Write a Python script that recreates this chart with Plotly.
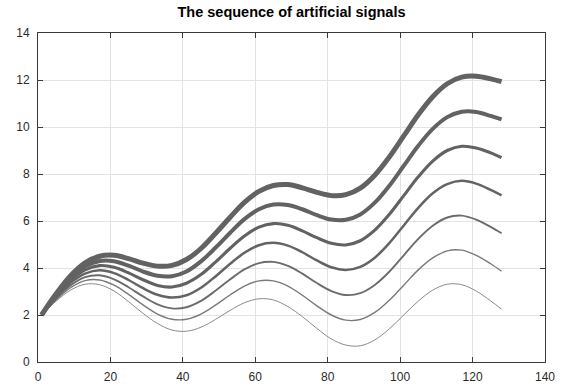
import plotly.graph_objects as go

x_vals = [1, 5, 9, 13, 17, 21, 25, 29, 33, 37, 41, 45, 49, 53, 57, 61, 65,
          69, 73, 77, 81, 85, 89, 93, 97, 101, 105, 109, 113, 117, 121, 125, 128]

signal_1 = [2.00, 2.59, 3.06, 3.31, 3.29, 3.02, 2.57, 2.07, 1.64, 1.36, 1.31, 1.48, 1.81,
            2.19, 2.52, 2.69, 2.64, 2.36, 1.93, 1.43, 0.98, 0.72, 0.69, 0.94, 1.41, 2.00,
            2.59, 3.06, 3.31, 3.29, 3.02, 2.60, 2.25]
signal_2 = [2.00, 2.64, 3.16, 3.46, 3.49, 3.27, 2.88, 2.43, 2.04, 1.82, 1.82, 2.04, 2.42,
            2.85, 3.23, 3.45, 3.45, 3.23, 2.84, 2.39, 2.00, 1.78, 1.81, 2.11, 2.63, 3.27,
            3.92, 4.43, 4.73, 4.76, 4.54, 4.18, 3.86]
signal_3 = [2.00, 2.70, 3.26, 3.61, 3.69, 3.52, 3.18, 2.79, 2.45, 2.28, 2.33, 2.60, 3.03,
            3.51, 3.94, 4.21, 4.26, 4.09, 3.76, 3.36, 3.02, 2.85, 2.93, 3.28, 3.84, 4.54,
            5.24, 5.80, 6.15, 6.23, 6.06, 5.75, 5.48]
signal_4 = [2.00, 2.75, 3.37, 3.76, 3.90, 3.78, 3.49, 3.14, 2.86, 2.74, 2.84, 3.16, 3.64,
            4.17, 4.65, 4.97, 5.07, 4.95, 4.67, 4.32, 4.03, 3.92, 4.05, 4.44, 5.06, 5.81,
            6.56, 7.18, 7.57, 7.71, 7.59, 7.32, 7.09]
signal_5 = [2.00, 2.80, 3.47, 3.92, 4.10, 4.03, 3.79, 3.50, 3.26, 3.19, 3.35, 3.72, 4.25,
            4.83, 5.36, 5.74, 5.89, 5.82, 5.58, 5.29, 5.05, 4.98, 5.16, 5.61, 6.28, 7.08,
            7.88, 8.55, 9.00, 9.18, 9.11, 8.90, 8.70]
signal_6 = [2.00, 2.85, 3.57, 4.07, 4.30, 4.29, 4.10, 3.85, 3.67, 3.65, 3.85, 4.28, 4.86,
            5.49, 6.08, 6.50, 6.70, 6.68, 6.50, 6.25, 6.06, 6.05, 6.28, 6.78, 7.50, 8.35,
            9.20, 9.92, 10.42, 10.65, 10.64, 10.47, 10.32]
signal_7 = [2.00, 2.90, 3.67, 4.22, 4.50, 4.54, 4.40, 4.21, 4.08, 4.11, 4.36, 4.83, 5.47,
            6.15, 6.79, 7.26, 7.51, 7.55, 7.41, 7.22, 7.08, 7.12, 7.40, 7.95, 8.72, 9.62,
            10.52, 11.29, 11.84, 12.12, 12.16, 12.05, 11.93]

x_ticks = [0, 20, 40, 60, 80, 100, 120, 140]
y_ticks = [0, 2, 4, 6, 8, 10, 12, 14]
title_text = "The sequence of artificial signals"

signals = [signal_1, signal_2, signal_3, signal_4, signal_5, signal_6, signal_7]
widths = [1.0, 1.4, 1.9, 2.5, 3.1, 4.0, 5.0]
colors = ["#8a8a8a", "#7a7a7a", "#6c6c6c", "#646464", "#626262", "#626262", "#626262"]

fig = go.Figure()
for s, w, c in zip(signals, widths, colors):
    fig.add_trace(go.Scatter(
        x=x_vals, y=s, mode="lines",
        line=dict(color=c, width=w, shape="spline", smoothing=1.0),
        showlegend=False, hoverinfo="skip",
    ))

axis_common = dict(
    showgrid=True, gridcolor="#e3e3e3", gridwidth=1,
    showline=True, linecolor="#3a3a3a", linewidth=1, mirror="allticks",
    ticks="inside", ticklen=5, tickcolor="#3a3a3a", tickwidth=1,
    zeroline=False, automargin=False,
    tickfont=dict(family="Liberation Sans, Arial, sans-serif", size=12, color="#2a2a2a"),
)

fig.update_xaxes(range=[0, 140], tickvals=x_ticks, ticktext=[str(v) for v in x_ticks],
                 ticklabelstandoff=4, **axis_common)
fig.update_yaxes(range=[0, 14], tickvals=y_ticks, ticktext=[str(v) for v in y_ticks],
                 ticklabelstandoff=5, **axis_common)

fig.update_layout(
    width=570, height=392,
    margin=dict(l=38, r=25, t=33, b=30),
    paper_bgcolor="white", plot_bgcolor="white",
    title=dict(text="<b>" + title_text + "</b>", x=(38 + 545) / 2 / 570, xanchor="center",
               y=1 - 12 / 392, yanchor="middle",
               font=dict(family="Liberation Sans, Arial, sans-serif", size=14.5, color="#000000")),
)

fig.write_html("out.html", config={"displayModeBar": False},
               post_script="document.body.style.margin='0px';")
